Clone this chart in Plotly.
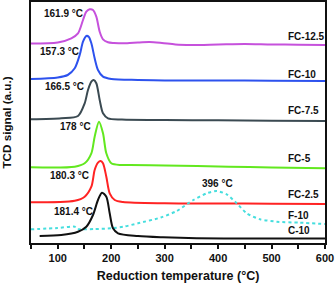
import plotly.graph_objects as go

# Temperatures (°C) and TCD signal (a.u.)
t_fc125 = [50, 100, 125.4, 137.9, 147.3, 153.5, 159.8, 166, 172.2, 178.5, 184.7, 194, 205, 230, 250, 272, 295, 320, 350, 400, 450, 500, 550, 600]
s_fc125 = [199.5, 200.5, 204.7, 209.7, 223, 231.3, 233.7, 233, 226.3, 211.3, 203.7, 200.7, 200, 199.7, 200.5, 201, 200, 198.5, 198, 198.5, 199, 198.5, 198.3, 198]

t_fc10 = [50, 100, 118.7, 131.8, 141.1, 147.3, 153.5, 157.9, 162.9, 169.1, 175.3, 184.7, 200.3, 250, 300, 400, 500, 600]
s_fc10 = [164, 165.5, 168, 174.7, 188, 201.3, 207, 206.3, 199.7, 184.7, 173, 166.3, 164, 163, 162.5, 162.5, 162.3, 162]

t_fc75 = [50, 106.7, 137.9, 150.4, 156.6, 162.9, 167.3, 172.2, 178.5, 184.7, 194, 220, 300, 400, 500, 600]
s_fc75 = [123.7, 124.7, 127, 139.7, 153, 161.3, 163, 159.7, 143, 129.7, 124.7, 123.5, 123, 122.7, 122.3, 122]

t_fc5 = [50, 131.8, 150.4, 162.9, 169.1, 177.2, 184.7, 190.9, 200.2, 219, 235, 300, 420, 500, 600]
s_fc5 = [75.7, 76.3, 79.7, 89.7, 106.3, 121.3, 109.7, 89.7, 79.7, 78, 78, 77.5, 76.3, 75.5, 74.7]

t_fc25 = [50, 131.8, 150.4, 162.9, 169.1, 175.3, 180.3, 184.7, 190.9, 197.2, 206.6, 222, 300, 400, 500, 600]
s_fc25 = [40.7, 42.3, 46.3, 56.3, 73, 80.3, 82, 79.7, 66.3, 49.7, 43, 41, 39.7, 39.5, 39.3, 39]

t_f10 = [50, 100, 131.8, 135.5, 170, 200, 225, 250, 293, 322.6, 353.7, 378.7, 397.4, 416, 434.8, 453.6, 478.5, 509.7, 553, 600]
s_f10 = [13.7, 15, 16.3, 14, 14, 14.7, 16.5, 19.7, 25.5, 32, 43, 49.7, 52, 48.7, 39.7, 29.7, 23.7, 21.3, 20.3, 19]

t_c10 = [66.2, 106.7, 137.9, 153.5, 166, 175.3, 182.8, 190.9, 197.2, 203.4, 212.8, 250.2, 297, 360, 450, 600]
s_c10 = [7, 8, 11.3, 16.3, 28, 43, 50.3, 46.3, 29.7, 14.7, 9.7, 7, 5.7, 4.7, 4.5, 4.5]

series_names = ["FC-12.5", "FC-10", "FC-7.5", "FC-5", "FC-2.5", "F-10", "C-10"]
series_t = [t_fc125, t_fc10, t_fc75, t_fc5, t_fc25, t_f10, t_c10]
series_s = [s_fc125, s_fc10, s_fc75, s_fc5, s_fc25, s_f10, s_c10]
colors = ["#c651dc", "#2d52ee", "#3b4a52", "#62e81f", "#ff2323", "#46dede", "#111111"]
dashes = ["solid", "solid", "solid", "solid", "solid", "dot", "solid"]
smooth = [0.8, 0.8, 0.8, 0.8, 0.8, 0.6, 0.8]

# right-hand labels (name, signal level)
label_y = [206.3, 169, 133, 84.5, 48.5, 27.8, 12.5]
label_x = 527

# peak annotations
peak_text = ["161.9 °C", "157.3 °C", "166.5 °C", "178 °C", "180.3 °C", "181.4 °C"]
peak_x = [150.5, 144.1, 153.5, 166, 162.8, 169.2]
peak_y = [229.7, 191.3, 156.3, 116.3, 68, 31.3]
f10_peak_text = "396 °C"
f10_peak_x = 399
f10_peak_y = 59.7

x_ticks = [100, 200, 300, 400, 500, 600]

fig = go.Figure()
for name, t, s, c, d, sm in zip(series_names, series_t, series_s, colors, dashes, smooth):
    fig.add_trace(go.Scatter(x=t, y=s, mode="lines", name=name,
                             line=dict(color=c, width=2, dash=d, shape="spline", smoothing=sm)))

font_fam = "Liberation Sans, Arial, sans-serif"
ann = []
for name, y in zip(series_names, label_y):
    ann.append(dict(x=label_x, y=y, text=name, showarrow=False, xanchor="left", yanchor="middle",
                    font=dict(size=10, color="#111", family=font_fam, weight="bold")))
for txt, x, y in zip(peak_text, peak_x, peak_y):
    ann.append(dict(x=x, y=y, text=txt, showarrow=False, xanchor="right", yanchor="middle",
                    font=dict(size=10, color="#111", family=font_fam, weight="bold")))
ann.append(dict(x=f10_peak_x, y=f10_peak_y, text=f10_peak_text, showarrow=False, xanchor="center",
                yanchor="middle", font=dict(size=10, color="#111", family=font_fam, weight="bold")))

fig.update_layout(
    width=336, height=284,
    margin=dict(l=31, r=11, t=2, b=41),
    paper_bgcolor="white", plot_bgcolor="white",
    showlegend=False,
    font=dict(family=font_fam, color="#111"),
    annotations=ann,
    xaxis=dict(range=[50, 600], tickmode="array", tickvals=x_ticks, automargin=False,
               ticks="outside", ticklen=4, tickwidth=1.5, tickcolor="#111",
               minor=dict(dtick=50, tick0=50, ticks="outside", ticklen=4, tickwidth=1.5, tickcolor="#111"),
               showline=True, linewidth=2, linecolor="#111", mirror=True, showgrid=False, zeroline=False,
               tickfont=dict(size=11, family=font_fam, color="#111", weight="bold"),
               title=dict(text="Reduction temperature (°C)", standoff=8,
                          font=dict(size=12.5, family=font_fam, color="#111", weight="bold"))),
    yaxis=dict(range=[0, 241], showticklabels=False, ticks="", showgrid=False, zeroline=False,
               automargin=False,
               showline=True, linewidth=2, linecolor="#111", mirror=True,
               title=dict(text="TCD signal (a.u.)", standoff=16,
                          font=dict(size=11.7, family=font_fam, color="#111", weight="bold"))),
)

fig.write_html("out.html", config={"displayModeBar": False},
               post_script="document.body.style.margin='0';document.body.style.padding='0';"
                           "document.body.style.overflow='hidden';")
